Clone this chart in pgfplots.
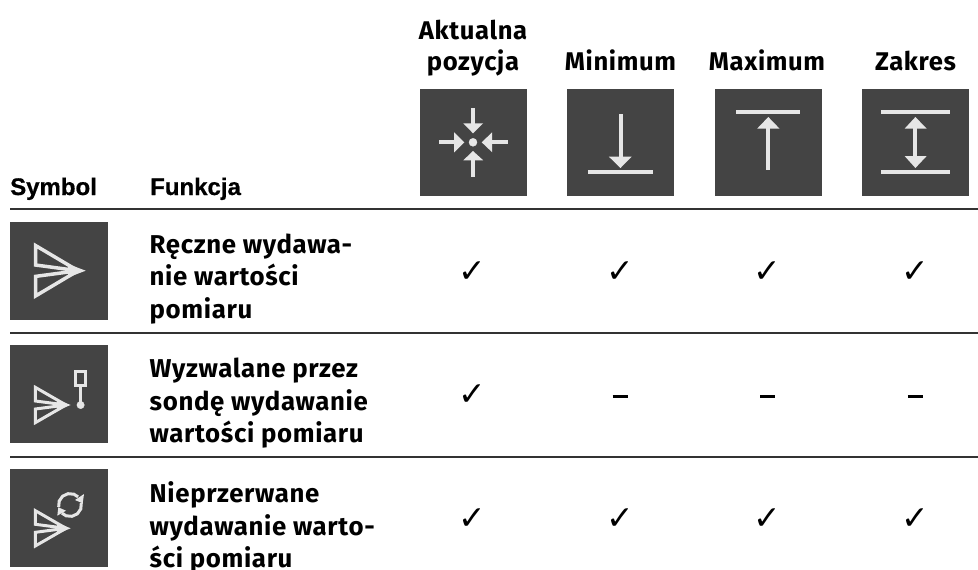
\documentclass[border=0pt]{standalone}
\usepackage{pgfplots}
\pgfplotsset{compat=1.18}
\usepackage{fontspec}
\setmainfont{Fira Sans}
\newfontfamily\bodyf[LetterSpace=2.5]{Fira Sans}
\newfontfamily\headf[FakeBold=0.7]{Liberation Sans Bold}
\newfontfamily\symf{DejaVu Sans}
\definecolor{dk}{HTML}{444444}
\definecolor{lt}{HTML}{E6E6E6}
\definecolor{rl}{HTML}{333333}
\newcommand\bx[4]{\addplot[fill=dk,draw=none] coordinates {(#1,#3)(#2,#3)(#2,#4)(#1,#4)};}
\newcommand\tri[6]{\addplot[fill=lt,draw=none] coordinates {(#1,#2)(#3,#4)(#5,#6)};}
\newcommand\lin[4]{\addplot[draw=lt,line width=4pt] coordinates {(#1,#2)(#3,#4)};}
\newcommand\rul[1]{\addplot[draw=rl,line width=1.6pt] coordinates {(10,#1)(978,#1)};}
\newcommand\dotm[3]{\addplot[only marks,mark=*,mark size=#3pt,color=lt] coordinates {(#1,#2)};}
\newcommand\smsend[1]{%
 \addplot[draw=lt,line width=3pt,line join=miter,miter limit=4] coordinates {(35.4,#1-17.6)(66,#1)(35.4,#1-4)} --cycle;
 \addplot[draw=lt,line width=3pt,line join=miter,miter limit=4] coordinates {(35.4,#1+17.6)(66,#1)(35.4,#1+4)} --cycle;
 \tri{57}{#1-5.5}{70.7}{#1}{57}{#1+5.5}}
\newcommand\bodyt[3]{\node[anchor=base west,inner sep=0pt] at (axis cs:#1,#2) {\fontsize{25.8}{30}\selectfont\bodyf\bfseries #3};}
\newcommand\colh[3]{\node[anchor=base,inner sep=0pt] at (axis cs:#1,#2) {\fontsize{25.6}{30}\selectfont\bodyf\bfseries #3};}
\newcommand\chk[2]{\node[inner sep=0pt] at (axis cs:#1,#2) {\fontsize{33}{33}\selectfont\symf ✓};}
\newcommand\dsh[2]{\addplot[draw=black,line width=2.6pt] coordinates {(#1-7.5,#2)(#1+7.5,#2)};}
\begin{document}
\begin{tikzpicture}
\path[use as bounding box] (0,0) rectangle (978pt,570pt);
\begin{axis}[scale only axis,width=978pt,height=570pt,at={(0,0)},anchor=south west,
  xmin=0,xmax=978,ymin=0,ymax=570,y dir=reverse,hide axis,clip=false]
% header boxes
\bx{420}{527}{89}{196}
\bx{567}{674}{89}{196}
\bx{715}{822}{89}{196}
\bx{862}{969}{89}{196}
% icon 1
\lin{473}{108.3}{473}{124}
\tri{463.3}{123.3}{483.2}{123.3}{473}{133.3}
\lin{473}{160}{473}{176.7}
\tri{463.3}{160.3}{483.2}{160.3}{473}{151}
\lin{439}{142.3}{455}{142.3}
\tri{454.2}{132.3}{454.2}{152.3}{464.3}{142.3}
\lin{491}{142.3}{507.5}{142.3}
\tri{492.2}{132.3}{492.2}{152.3}{481.7}{142.3}
\dotm{473}{142.3}{4}
% icon 2
\lin{620.5}{114.3}{620.5}{158}
\tri{608.9}{156.7}{631.7}{156.7}{620.5}{168}
\lin{588.3}{172.3}{652.8}{172.3}
% icon 3
\lin{736}{112.3}{800.2}{112.3}
\tri{757.1}{128.7}{779.6}{128.7}{768.3}{117}
\lin{768.3}{128}{768.3}{170}
% icon 4
\lin{881.4}{112.3}{949.9}{112.3}
\lin{881.4}{172.3}{949.9}{172.3}
\tri{904.6}{128.7}{926.7}{128.7}{915.4}{117}
\tri{904.6}{156}{926.7}{156}{915.4}{168}
\lin{915.4}{128}{915.4}{157}
% rules
\addplot[draw=rl,line width=1.3pt] coordinates {(10,209)(978,209)};
\rul{332.7}
\rul{457}
% row boxes
\bx{10}{108}{222}{320}
\bx{10}{108}{345}{442.7}
\bx{10}{108}{469}{567}
% send big
\addplot[draw=lt,line width=3.5pt,line join=miter,miter limit=4] coordinates {(35.5,245.5)(78,270.7)(35.5,265)} --cycle;
\addplot[draw=lt,line width=3.5pt,line join=miter,miter limit=4] coordinates {(35.5,296)(78,270.7)(35.5,276.4)} --cycle;
\tri{68}{264}{85.7}{270.7}{68}{277.4}
% send small + probe
\smsend{405}
\addplot[draw=lt,line width=3pt] coordinates {(75.5,371)(85.8,371)(85.8,385)(75.5,385)} --cycle;
\addplot[draw=lt,line width=3pt] coordinates {(80.6,386)(80.6,404)};
\dotm{80.6}{405}{3.7}
% send small + refresh
\smsend{528.3}
\addplot[draw=lt,line width=3pt] coordinates {(58.7,507)(59.2,501.1)(62.6,496.2)(68,493.7)(73.9,494.2)(78.1,496.9)};
\addplot[draw=lt,line width=3pt] coordinates {(81.3,503)(80.8,508.9)(77.4,513.8)(72,516.3)(66.1,515.8)(61.9,513.1)};
\tri{84}{494}{82.7}{503.3}{75}{500}
\tri{57.3}{515.7}{58.3}{507.3}{66}{510.7}
% header text
\colh{473}{39}{Aktualna}
\colh{473}{70}{pozycja}
\colh{620.5}{70}{Minimum}
\colh{767}{70}{Maximum}
\colh{915.5}{70}{Zakres}
\node[anchor=base west,inner sep=0pt] at (axis cs:10,195) {\fontsize{24}{24}\selectfont\headf Symbol};
\node[anchor=base west,inner sep=0pt] at (axis cs:150,195) {\fontsize{24}{24}\selectfont\headf Funkcja};
% body text
\bodyt{149.5}{253}{Ręczne wydawa-}
\bodyt{149.5}{285.5}{nie wartości}
\bodyt{149.5}{318}{pomiaru}
\bodyt{149.5}{377.5}{Wyzwalane przez}
\bodyt{149.5}{410}{sondę wydawanie}
\bodyt{149.5}{442}{wartości pomiaru}
\bodyt{149.5}{502.5}{Nieprzerwane}
\bodyt{149.5}{535}{wydawanie warto-}
\bodyt{149.5}{567}{ści pomiaru}
% marks
\chk{472.6}{271.7}\chk{620}{271.7}\chk{767.7}{271.7}\chk{915.3}{271.7}
\chk{472.6}{395}\dsh{620}{396.7}\dsh{767.7}{396.7}\dsh{915.3}{396.7}
\chk{472.6}{519}\chk{620}{519}\chk{767.7}{519}\chk{915.3}{519}
\end{axis}
\end{tikzpicture}
\end{document}
